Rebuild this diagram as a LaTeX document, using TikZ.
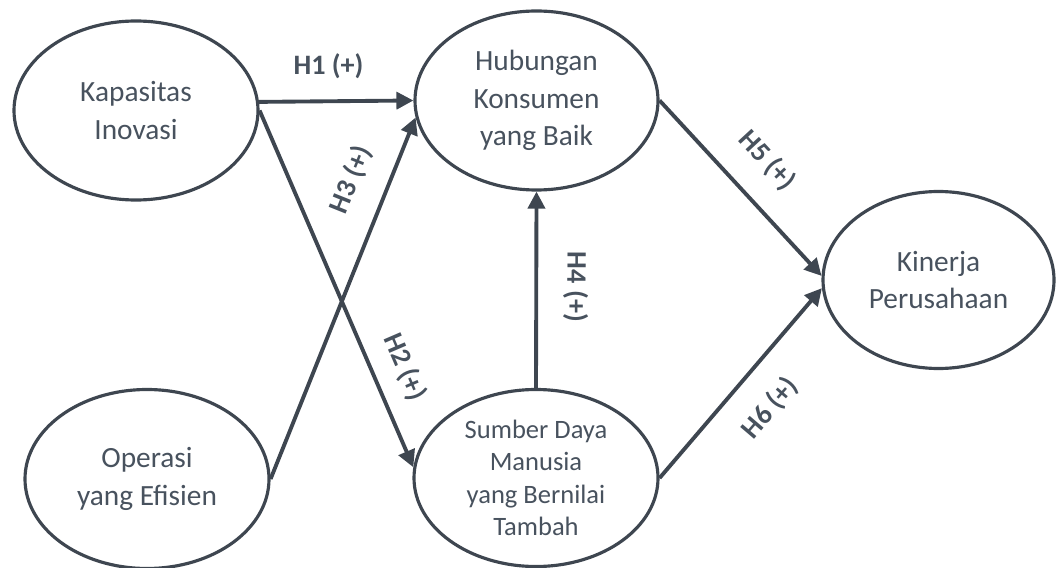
\documentclass[tikz,border=0pt]{standalone}
\usepackage{fontspec}
\setmainfont{Carlito}
\usepackage{tikz}
\usetikzlibrary{shapes,arrows,positioning,calc,arrows.meta}

\definecolor{edgegray}{RGB}{62,70,80}
\definecolor{textgray}{RGB}{72,82,94}

\begin{document}
\begin{tikzpicture}[
    latent/.style={ellipse, draw=edgegray, line width=1.8pt, inner sep=0pt,
        minimum width=4.88cm, minimum height=3.58cm, align=center, text=textgray,
        font=\fontsize{16.7}{21.4}\selectfont},
    link/.style={draw=edgegray, line width=2.2pt,
        >={Triangle[length=0.34cm,width=0.34cm]}, ->},
    hyp/.style={text=textgray, inner sep=0pt, font=\fontsize{16}{19}\selectfont\bfseries}
]
    \useasboundingbox (0,0) rectangle (21.14,11.34);

    % Konstruk
    \node[latent] (kap) at (2.72,9.13) {Kapasitas\\Inovasi};
    \node[latent, minimum width=4.86cm] (hub) at (10.73,9.33) {Hubungan\\Konsumen\\yang Baik};
    \node[latent] (ops) at (2.94,1.76) {Operasi\\yang Efisien};
    \node[latent, minimum height=3.54cm, font=\fontsize{15.1}{18.5}\selectfont] (sdm) at (10.72,1.78)
        {Sumber Daya\\Manusia\\yang Bernilai\\Tambah};
    \node[latent, minimum width=4.62cm, minimum height=3.54cm] (kin) at (18.77,5.74) {Kinerja\\Perusahaan};

    % Hipotesis
    \draw[link] (kap.4) -- (hub.west) node[hyp, pos=0.45, above=0.42cm] {H1 (+)};
    \draw[link] (kap.east) -- (sdm.175) node[hyp, sloped, pos=0.755, above=0.34cm] {H2 (+)};
    \draw[link] (ops.east) -- (hub.188) node[hyp, sloped, pos=0.79, above=0.44cm] {H3 (+)};
    \draw[link, <-] (hub.south) -- (sdm.north) node[hyp, sloped, allow upside down, pos=0.485, above=0.5cm] {H4 (+)};
    \draw[link] (hub.east) -- (kin.178) node[hyp, sloped, pos=0.49, above=0.48cm] {H5 (+)};
    \draw[link] (sdm.east) -- (kin.184) node[hyp, sloped, pos=0.5, below=0.48cm] {H6 (+)};
\end{tikzpicture}
\end{document}
